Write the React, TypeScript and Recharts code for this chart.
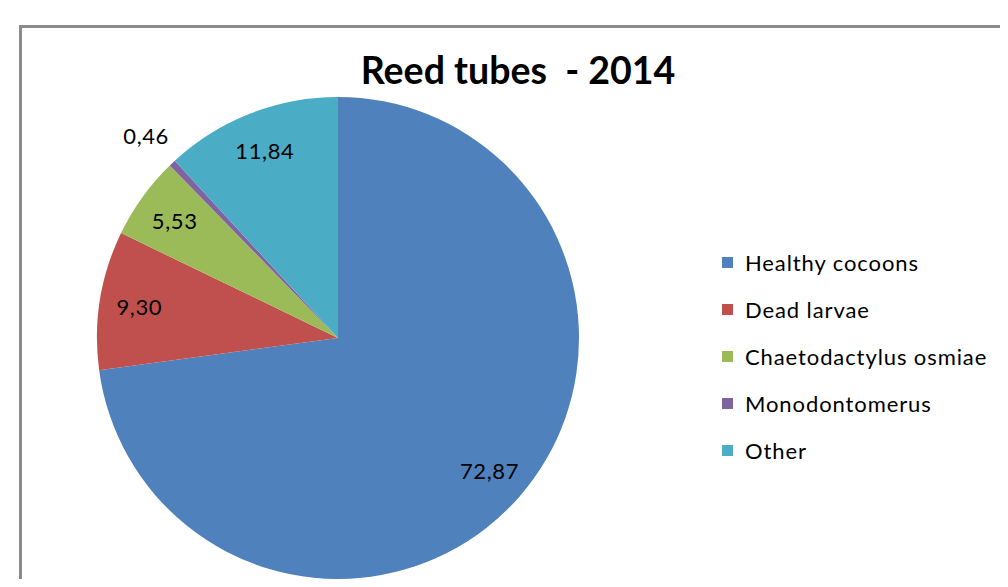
import React from "react";
import { PieChart, Pie, Cell, Legend } from "recharts";

// Reed tube contents, 2014 (percent)
const categories = [
  "Healthy cocoons",
  "Dead larvae",
  "Chaetodactylus osmiae",
  "Monodontomerus",
  "Other",
];
const shares = [72.87, 9.3, 5.53, 0.46, 11.84];
const colors = ["#4F81BD", "#C0504D", "#9BBB59", "#8064A2", "#4BACC6"];

const data = categories.map((name, i) => ({ name, value: shares[i] }));

const FONT = "Lato, 'Open Sans', sans-serif";
const RADIAN = Math.PI / 180;

const fmt = (v: number) => v.toFixed(2).replace(".", ",");

// Values inside the slice, except tiny slices which sit just outside the rim
function renderLabel(props: any) {
  const { cx, cy, midAngle, outerRadius, value } = props;
  const r = value < 1 ? outerRadius + 38 : outerRadius * 0.835;
  const x = cx + r * Math.cos(-midAngle * RADIAN);
  const y = cy + r * Math.sin(-midAngle * RADIAN);
  return (
    <text
      x={x}
      y={y}
      fill="#000"
      fontSize={22}
      fontFamily={FONT}
      letterSpacing={0.6}
      textAnchor="middle"
      dominantBaseline="central"
    >
      {fmt(value)}
    </text>
  );
}

function LegendList() {
  return (
    <div style={{ fontFamily: FONT, fontSize: 22, color: "#000" }}>
      {categories.map((name, i) => (
        <div
          key={name}
          style={{ display: "flex", alignItems: "center", height: 47 }}
        >
          <span
            style={{
              width: 11,
              height: 11,
              background: colors[i],
              marginRight: 12,
              display: "inline-block",
            }}
          />
          <span style={{ letterSpacing: 0.9 }}>{name}</span>
        </div>
      ))}
    </div>
  );
}

export default function App() {
  return (
    <div
      style={{
        position: "relative",
        width: 1008,
        height: 587,
        margin: -8,
        overflow: "hidden",
        background: "#fff",
      }}
    >
      <div
        style={{
          position: "absolute",
          left: 19,
          top: 25,
          width: 1200,
          height: 800,
          border: "3px solid #8a8a8a",
        }}
      />
      <div
        style={{
          position: "absolute",
          left: 318,
          top: 47,
          width: 400,
          textAlign: "center",
          fontFamily: FONT,
          fontWeight: 700,
          fontSize: 37.5,
          color: "#000",
          whiteSpace: "pre",
        }}
      >
        {"Reed tubes  - 2014"}
      </div>
      <div style={{ position: "absolute", left: 0, top: 0 }}>
        <PieChart
          width={1008}
          height={587}
          margin={{ top: 0, right: 0, bottom: 0, left: 0 }}
        >
          <Pie
            data={data}
            dataKey="value"
            nameKey="name"
            cx={338}
            cy={338}
            outerRadius={241}
            startAngle={90}
            endAngle={-270}
            stroke="none"
            label={renderLabel}
            labelLine={false}
            isAnimationActive={false}
          >
            {data.map((d, i) => (
              <Cell key={d.name} fill={colors[i]} />
            ))}
          </Pie>
          <Legend
            layout="vertical"
            content={() => <LegendList />}
            wrapperStyle={{ position: "absolute", left: 722, top: 239, width: 286 }}
          />
        </PieChart>
      </div>
    </div>
  );
}
